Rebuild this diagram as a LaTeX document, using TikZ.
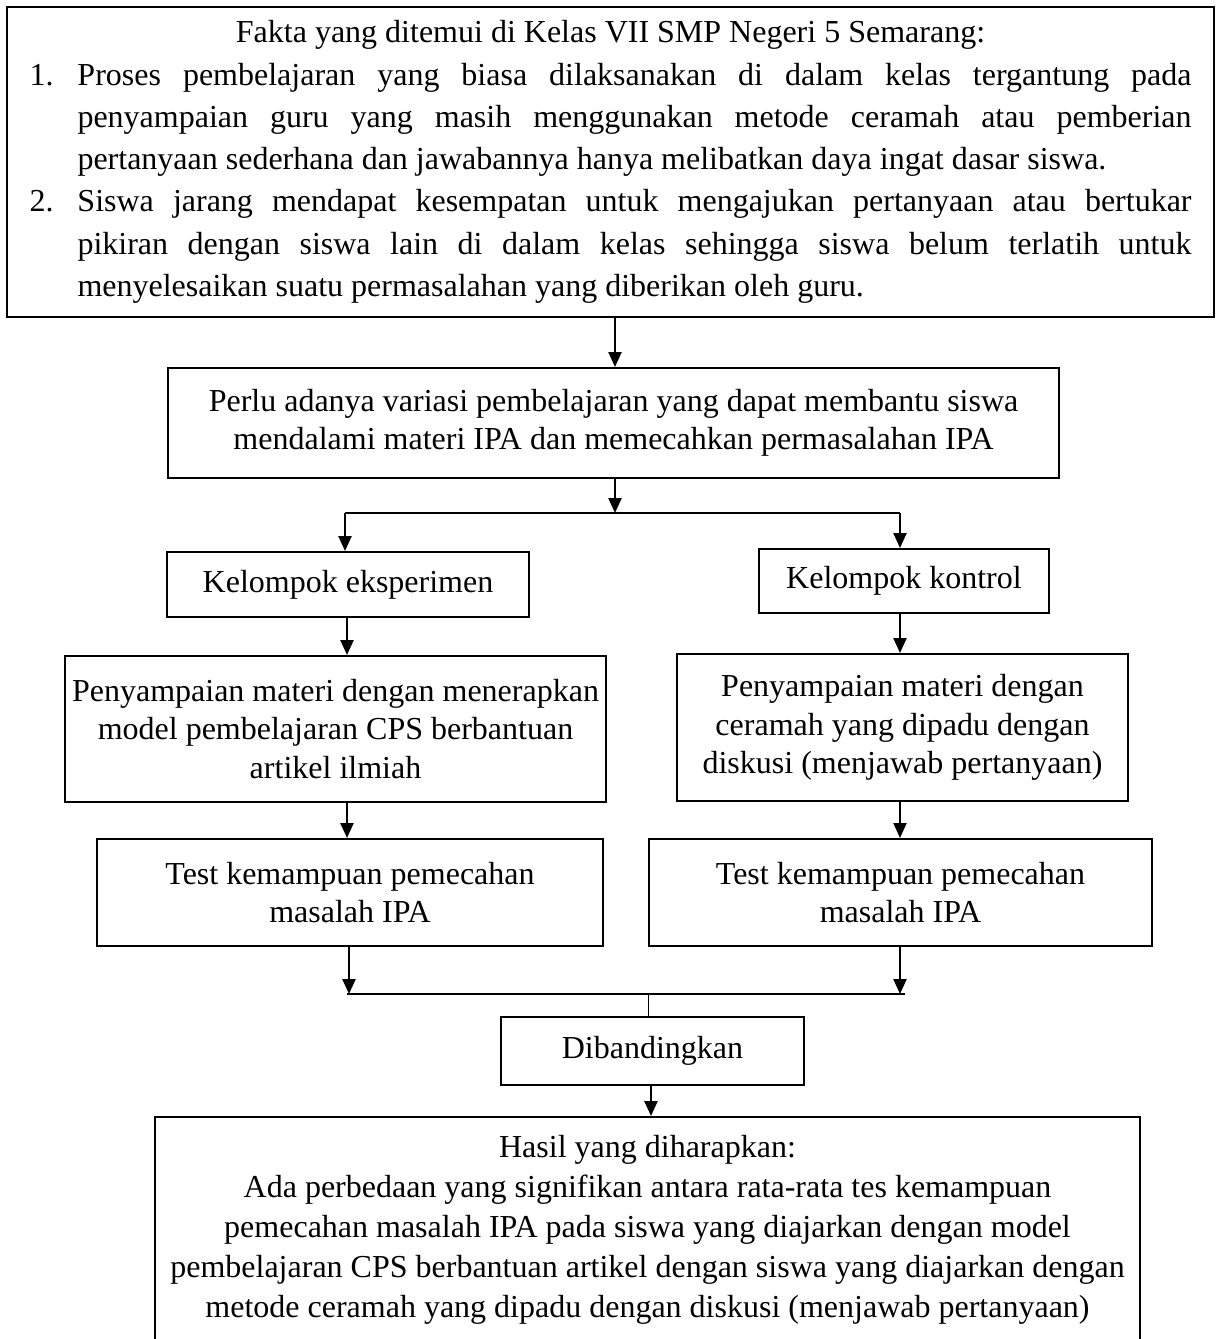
\documentclass[tikz,border=0pt]{standalone}
\usepackage{fontspec}
\setmainfont{Liberation Serif}
\usetikzlibrary{arrows.meta}
\begin{document}
\begin{tikzpicture}[x=1pt,y=-1pt,
  box/.style={draw=black, line width=2pt, align=center, inner sep=0pt,
    font=\fontsize{32}{38.5}\selectfont},
  arr/.style={line width=2.4pt, -{Triangle[width=13pt,length=15pt]}},
  ln/.style={line width=2.4pt},
  thin/.style={line width=1pt}]
\useasboundingbox (0,0) rectangle (1219,1339);
\clip (0,0) rectangle (1219,1339);

\node[box, minimum width=1207pt, minimum height=310pt, text width=1162pt, align=justify,
  font=\fontsize{32}{42.3}\selectfont] (top) at (610.5,162) {%
  \tolerance=10000 \hyphenpenalty=10000 \exhyphenpenalty=10000 \parindent=0pt
  {\centering Fakta yang ditemui di Kelas VII SMP Negeri 5 Semarang:\par}
  \hangindent=48pt \hangafter=1 \noindent\makebox[48pt][l]{1.}Proses pembelajaran yang biasa dilaksanakan di dalam kelas tergantung pada\linebreak
  penyampaian guru yang masih menggunakan metode ceramah atau pemberian\linebreak
  pertanyaan sederhana dan jawabannya hanya melibatkan daya ingat dasar siswa.\par
  \hangindent=48pt \hangafter=1 \noindent\makebox[48pt][l]{2.}Siswa jarang mendapat kesempatan untuk mengajukan pertanyaan atau bertukar\linebreak
  pikiran dengan siswa lain di dalam kelas sehingga siswa belum terlatih untuk\linebreak
  menyelesaikan suatu permasalahan yang diberikan oleh guru.\par};

\node[box, minimum width=891pt, minimum height=110pt] (perlu) at (613.5,423)
  {Perlu adanya variasi pembelajaran yang dapat membantu siswa\\mendalami materi IPA dan memecahkan permasalahan IPA};

\node[box, minimum width=362pt, minimum height=65pt] (keks) at (348,584.5) {Kelompok eksperimen};
\node[box, minimum width=290pt, minimum height=64pt] (kkon) at (904,581) {Kelompok kontrol};

\node[box, minimum width=541pt, minimum height=146pt] (peks) at (335.5,729)
  {Penyampaian materi dengan menerapkan\\model pembelajaran CPS berbantuan\\artikel ilmiah};
\node[box, minimum width=451pt, minimum height=147pt] (pkon) at (902.5,727.5)
  {Penyampaian materi dengan\\ceramah yang dipadu dengan\\diskusi (menjawab pertanyaan)};

\node[box, minimum width=506pt, minimum height=107pt] (teks) at (350,892.5)
  {Test kemampuan pemecahan\\masalah IPA};
\node[box, minimum width=503pt, minimum height=107pt] (tkon) at (900.5,892.5)
  {Test kemampuan pemecahan\\masalah IPA};

\node[box, minimum width=303pt, minimum height=68pt] (dib) at (652.5,1051) {Dibandingkan};

\node[box, minimum width=985pt, minimum height=226pt, font=\fontsize{32}{40}\selectfont] (hasil) at (647.5,1230)
  {Hasil yang diharapkan:\\Ada perbedaan yang signifikan antara rata-rata tes kemampuan\\pemecahan masalah IPA pada siswa yang diajarkan dengan model\\pembelajaran CPS berbantuan artikel dengan siswa yang diajarkan dengan\\metode ceramah yang dipadu dengan diskusi (menjawab pertanyaan)};

% connectors
\coordinate (bm) at (615,513);
\coordinate (bl) at (345,513);
\coordinate (br) at (900,513);
\coordinate (cl) at (347,0);
\coordinate (jl) at (349,994);
\coordinate (jr) at (900,994);
\coordinate (jm) at (648,994);

\draw[arr] (top.south -| bm) -- (perlu.north -| bm);
\draw[arr] (perlu.south -| bm) -- (bm);
\draw[ln] (bl) -- (br);
\draw[arr] (bl) -- (bl |- keks.north);
\draw[arr] (br) -- (br |- kkon.north);
\draw[arr] (keks.south -| cl) -- (peks.north -| cl);
\draw[arr] (kkon.south -| br) -- (pkon.north -| br);
\draw[arr] (peks.south -| cl) -- (teks.north -| cl);
\draw[arr] (pkon.south -| br) -- (tkon.north -| br);
\draw[arr] (teks.south -| jl) -- (jl);
\draw[arr] (tkon.south -| jr) -- (jr);
\draw[ln] ([xshift=-2pt]jl) -- ([xshift=5pt]jr);
\draw[thin] (jm) -- (dib.north -| jm);
\draw[arr] (dib.south -| 651,0) -- (hasil.north -| 651,0);
\end{tikzpicture}
\end{document}
